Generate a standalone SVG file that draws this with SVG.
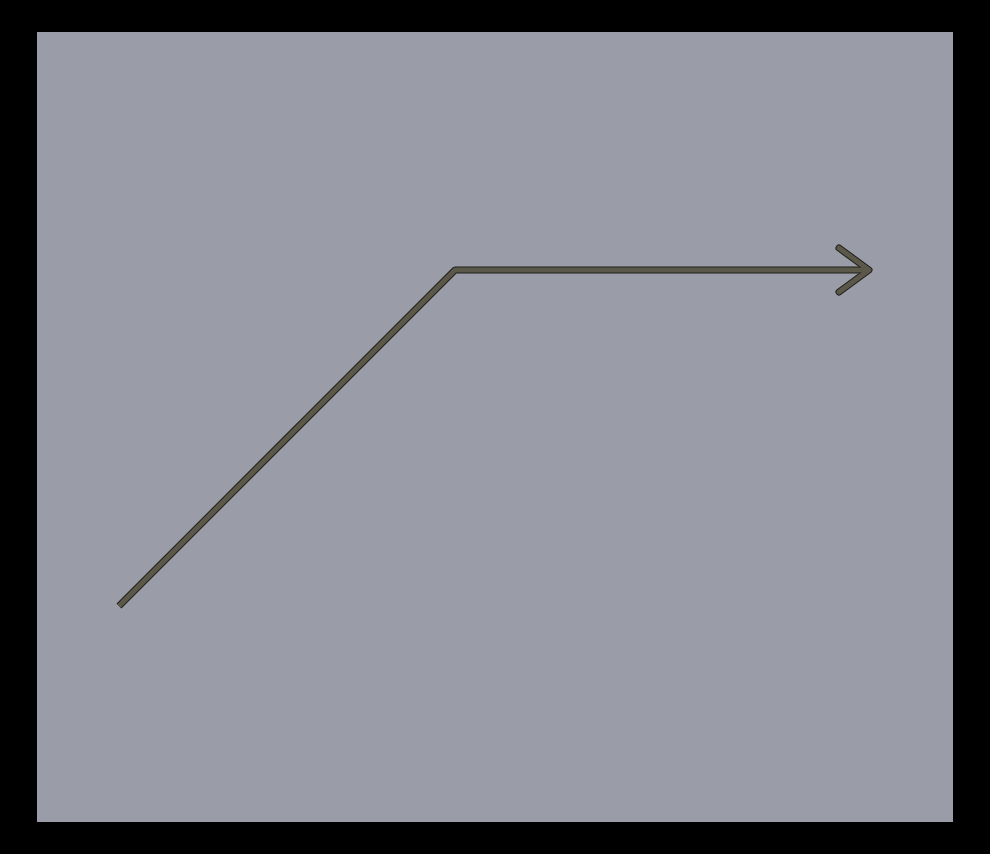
<svg xmlns="http://www.w3.org/2000/svg" width="990" height="854" viewBox="0 0 990 854">
<style>
.outer{fill:none;stroke:#1e1e1a;stroke-width:7}
.inner{fill:none;stroke:#5b5849;stroke-width:5}
</style>
<rect x="0" y="0" width="990" height="854" fill="#000"/>
<rect x="37" y="32" width="916" height="790" fill="#9a9ca8"/>
<g id="connectors">
<path class="outer" d="M119,606 L455,270 L868,270" stroke-linejoin="bevel"/>
<path class="outer" d="M839,248 L869,270 L839,292" stroke-linejoin="round" stroke-linecap="round" stroke-width="10"/>
<path class="inner" d="M119,606 L455,270 L868,270" stroke-linejoin="bevel"/>
<path class="inner" d="M839,248 L869,270 L839,292" stroke-linejoin="round" stroke-linecap="round" stroke-width="8"/>
</g>
</svg>
